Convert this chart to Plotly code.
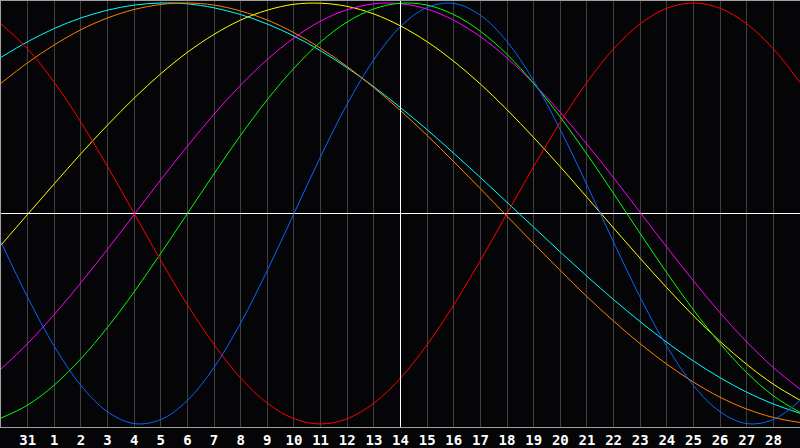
import plotly.graph_objects as go

# Day of month at each column (index 0..30); today = 14
days = [30, 31, 1, 2, 3, 4, 5, 6, 7, 8, 9, 10, 11, 12, 13, 14, 15, 16, 17, 18,
        19, 20, 21, 22, 23, 24, 25, 26, 27, 28, 29]
today_label = 14

# Cycle values, one value per day column
red = [0.901, 0.782, 0.623, 0.434, 0.223, 0.0, -0.223, -0.434, -0.623, -0.782,
       -0.901, -0.975, -1.0, -0.975, -0.901, -0.782, -0.623, -0.434, -0.223, 0.0,
       0.223, 0.434, 0.623, 0.782, 0.901, 0.975, 1.0, 0.975, 0.901, 0.782, 0.623]
blue = [-0.136, -0.398, -0.631, -0.817, -0.942, -0.998, -0.979, -0.888, -0.731, -0.520,
        -0.270, 0.0, 0.270, 0.520, 0.731, 0.888, 0.979, 0.998, 0.942, 0.817,
        0.631, 0.398, 0.136, -0.136, -0.398, -0.631, -0.817, -0.942, -0.998, -0.979, -0.888]
green = [-0.972, -0.910, -0.815, -0.690, -0.541, -0.372, -0.189, 0.0, 0.189, 0.372,
         0.541, 0.690, 0.815, 0.910, 0.972, 0.999, 0.990, 0.945, 0.866, 0.756,
         0.618, 0.458, 0.282, 0.095, -0.095, -0.282, -0.458, -0.618, -0.756, -0.866, -0.945]
magenta = [-0.739, -0.618, -0.480, -0.329, -0.170, -0.005, 0.160, 0.320, 0.472, 0.610,
           0.732, 0.834, 0.914, 0.968, 0.996, 0.997, 0.971, 0.918, 0.840, 0.739,
           0.618, 0.480, 0.329, 0.170, 0.005, -0.160, -0.320, -0.472, -0.610, -0.732, -0.834]
yellow = [-0.150, -0.004, 0.141, 0.284, 0.420, 0.548, 0.664, 0.766, 0.851, 0.919,
          0.966, 0.994, 0.999, 0.984, 0.948, 0.891, 0.816, 0.723, 0.615, 0.493,
          0.361, 0.222, 0.077, -0.069, -0.213, -0.353, -0.486, -0.608, -0.717, -0.811, -0.887]
orange = [0.619, 0.716, 0.801, 0.873, 0.929, 0.969, 0.993, 1.0, 0.990, 0.962,
          0.919, 0.859, 0.785, 0.698, 0.598, 0.489, 0.371, 0.246, 0.118, -0.013,
          -0.143, -0.271, -0.395, -0.511, -0.619, -0.716, -0.801, -0.873, -0.929, -0.969, -0.993]
cyan = [0.742, 0.816, 0.879, 0.929, 0.966, 0.990, 1.0, 0.996, 0.977, 0.945,
        0.900, 0.843, 0.773, 0.692, 0.602, 0.503, 0.398, 0.286, 0.171, 0.053,
        -0.065, -0.183, -0.298, -0.409, -0.514, -0.612, -0.701, -0.780, -0.849, -0.905, -0.949]

series = [
    ("cyan", cyan, "#00ffff"),
    ("orange", orange, "#ff8000"),
    ("yellow", yellow, "#ffff00"),
    ("magenta", magenta, "#ff00ff"),
    ("green", green, "#00ff00"),
    ("blue", blue, "#0a64ff"),
    ("red", red, "#ff0000"),
]

x = list(range(len(days)))
tick_idx = x[1:-1]
tick_txt = [str(days[i]) for i in tick_idx]
today_idx = days.index(today_label)

fig = go.Figure()
for name, vals, col in series:
    fig.add_trace(go.Scatter(x=x, y=vals, mode="lines", name=name,
                             line=dict(color=col, width=1, shape="spline", smoothing=1.0),
                             hoverinfo="skip"))

fig.add_shape(type="line", xref="x", yref="paper", x0=today_idx, x1=today_idx, y0=0, y1=1,
              line=dict(color="#ffffff", width=1), layer="above")

fig.update_layout(
    width=800, height=448,
    margin=dict(l=1, r=0, t=1, b=21, autoexpand=False),
    paper_bgcolor="#050507", plot_bgcolor="#050507",
    showlegend=False,
    xaxis=dict(range=[0, len(days) - 1], tickvals=tick_idx, ticktext=tick_txt,
               showgrid=True, gridcolor="#404040", gridwidth=1,
               showline=True, linecolor="#a0a0a0", linewidth=1, mirror=True,
               zeroline=False, ticks="",
               tickfont=dict(family="DejaVu Sans Mono", size=14, color="#ffffff", weight="bold")),
    yaxis=dict(range=[-1.0143, 1.0095], showgrid=False, showticklabels=False,
               zeroline=True, zerolinecolor="#ffffff", zerolinewidth=1,
               showline=True, linecolor="#a0a0a0", linewidth=1, ticks=""),
)

fig.write_html("out.html", config={"displayModeBar": False},
               post_script="document.body.style.margin='0';document.body.style.background='#050507';")
